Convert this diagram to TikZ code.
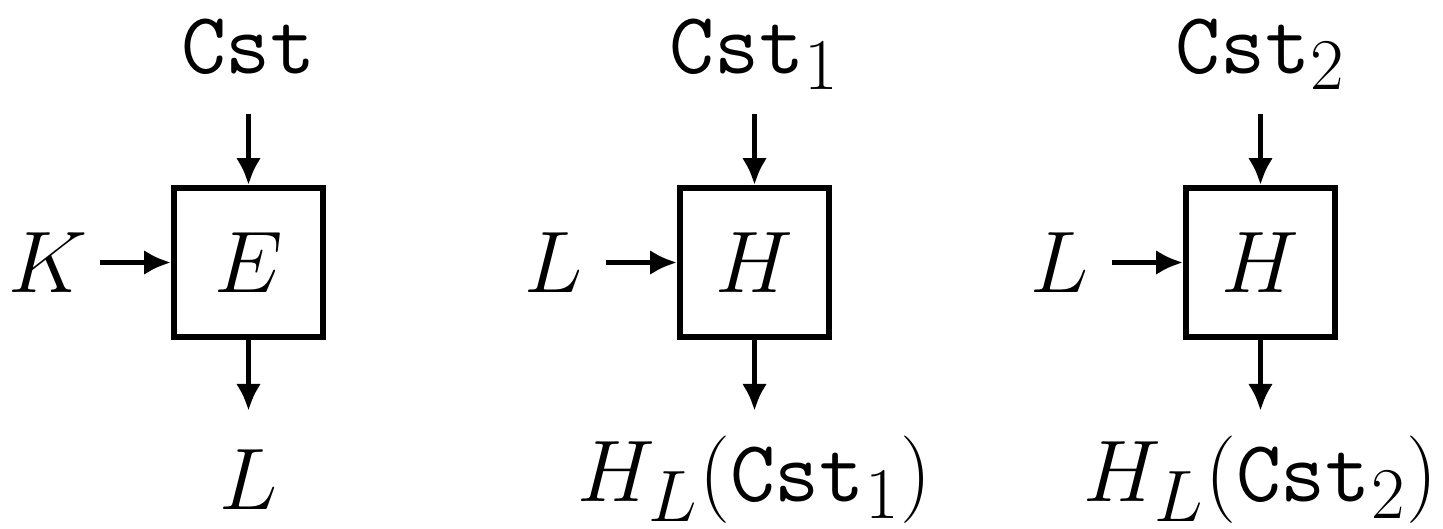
\documentclass[tikz,border=0pt]{standalone}
\usetikzlibrary{arrows.meta,calc}

\tikzset{
  block/.style={draw, line width=1.65pt, minimum size=1.49cm, inner sep=0pt},
  feed/.style={-{Latex[length=0.27cm,width=0.25cm]}, line width=1.65pt},
}

\begin{document}
\begin{tikzpicture}[every node/.style={font=\Huge}]

  % Fixed frame
  \useasboundingbox (0,0) rectangle (14.43,-5.28);

  % One block per stage: box, key input, top input, output
  \foreach \n/\x/\fn/\key/\cst/\out in {
      1/2.485/E/K/\mathtt{Cst}/L,
      2/7.545/H/L/\mathtt{Cst}_1/H_L(\mathtt{Cst}_1),
      3/12.605/H/L/\mathtt{Cst}_2/H_L(\mathtt{Cst}_2)} {
    \node[block] (box-\n) at (\x,-2.625) {$\fn$};

    % Top input
    \node[anchor=base] (top-\n) at (\x,-0.73) {$\cst$};
    \coordinate (in-\n) at ($(box-\n.north)+(0,0.71)$);
    \draw[feed] (in-\n) -- (box-\n.north);

    % Side input
    \node (key-\n) at ($(box-\n.west)+(-1.23,0)$) {$\key$};
    \coordinate (side-\n) at ($(box-\n.west)+(-0.71,0)$);
    \draw[feed] (side-\n) -- (box-\n.west);

    % Output
    \coordinate (out-\n) at ($(box-\n.south)+(0,-0.71)$);
    \draw[feed] (box-\n.south) -- (out-\n);
    \node (res-\n) at (\x,-4.80) {$\out$};
  }

\end{tikzpicture}
\end{document}
